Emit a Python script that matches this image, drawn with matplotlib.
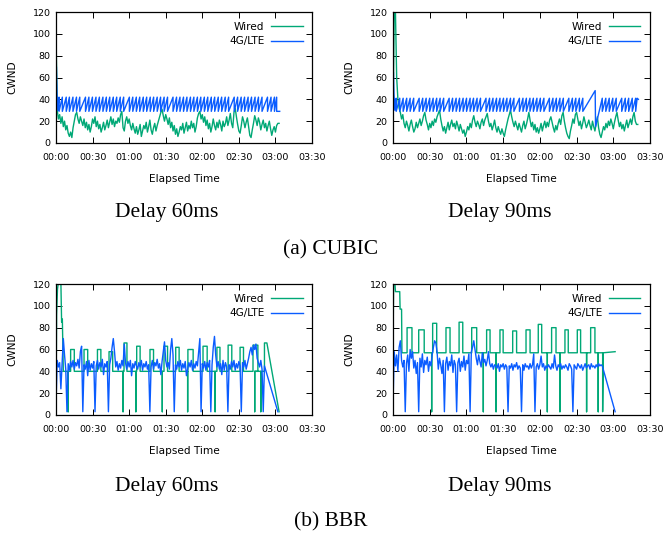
import matplotlib
matplotlib.use("Agg")
import matplotlib.pyplot as plt

# ---- data (seconds, CWND) ----
time_ticks = [0, 30, 60, 90, 120, 150, 180, 210]
time_labels = ["00:00", "00:30", "01:00", "01:30", "02:00", "02:30", "03:00", "03:30"]
cwnd_ticks = [0, 20, 40, 60, 80, 100, 120]

# CUBIC, delay 60ms
cubic60_wired = [100, 30, 22, 26, 18, 24, 15, 20, 12, 16, 9,
                 6, 10, 5, 14, 20, 26, 28, 22, 18, 24,
                 20, 16, 22, 14, 19, 12, 17, 10, 15, 22,
                 18, 24, 15, 20, 13, 17, 10, 14, 19, 12,
                 16, 21, 14, 19, 24, 17, 22, 15, 20, 18,
                 23, 19, 26, 29, 14, 11, 20, 24, 18, 22,
                 16, 12, 18, 13, 9, 15, 8, 12, 17, 6,
                 11, 16, 13, 19, 10, 15, 21, 12, 8, 14,
                 18, 11, 16, 20, 24, 28, 31, 25, 20, 26,
                 22, 17, 23, 14, 19, 11, 16, 8, 13, 6,
                 10, 15, 12, 18, 9, 14, 19, 11, 16, 13,
                 20, 14, 18, 10, 15, 23, 27, 29, 22, 26,
                 19, 24, 16, 21, 13, 18, 10, 15, 22, 16,
                 12, 19, 14, 21, 17, 11, 20, 15, 18, 24,
                 16, 21, 27, 18, 14, 28, 32, 24, 17, 11,
                 9, 16, 24, 20, 14, 19, 23, 15, 7, 5,
                 12, 18, 25, 21, 16, 23, 19, 12, 17, 21,
                 14, 18, 11, 16, 20, 13, 7, 12, 15, 10,
                 16, 18, 18]
cubic60_lte_head_t = [0, 0.3, 0.8, 1.5]
cubic60_lte_head_v = [10, 70, 45, 30]
cubic60_lte_drops = [2.5, 5.2, 8.4, 11.0, 13.9, 16.8, 19.5, 24.2, 27.0, 29.9,
                     32.8, 35.6, 38.5, 41.3, 44.1, 47.0, 49.8, 52.7, 55.5, 60.2,
                     63.0, 65.9, 68.7, 71.6, 74.4, 77.3, 80.1, 83.0, 85.8, 88.7,
                     91.5, 96.0, 98.9, 101.7, 104.6, 107.4, 110.3, 113.1, 116.0, 118.8,
                     121.7, 124.5, 127.4, 130.2, 133.1, 135.9, 138.8, 141.6, 146.2, 149.0,
                     151.9, 154.7, 157.6, 160.4, 163.3, 166.1, 169.0, 173.5, 176.4, 179.2, 181.0]
cubic60_lte_tail_t = [183.5]
cubic60_lte_tail_v = [29]
cubic60_lte_hi, cubic60_lte_lo = 42, 29

# CUBIC, delay 90ms
cubic90_wired = [20, 120, 120, 60, 40, 32, 28, 22, 26, 18,
                 14, 20, 16, 11, 17, 21, 15, 10, 13, 19,
                 14, 18, 22, 16, 20, 25, 28, 21, 17, 12,
                 18, 14, 20, 16, 22, 19, 24, 27, 30, 22,
                 16, 11, 15, 9, 14, 19, 12, 17, 21, 15,
                 18, 13, 20, 16, 11, 17, 13, 9, 12, 6,
                 10, 15, 12, 18, 14, 21, 25, 19, 15, 20,
                 17, 13, 19, 22, 16, 21, 24, 27, 20, 15,
                 18, 12, 16, 21, 14, 10, 15, 11, 8, 13,
                 9, 6, 12, 17, 22, 26, 30, 24, 19, 15,
                 20, 16, 12, 18, 14, 10, 16, 20, 13, 17,
                 22, 28, 21, 15, 19, 12, 17, 10, 14, 9,
                 13, 18, 11, 16, 20, 14, 19, 15, 21, 24,
                 19, 14, 10, 16, 12, 18, 22, 17, 25, 28,
                 20, 14, 9, 6, 4, 11, 16, 22, 18, 26,
                 28, 22, 16, 20, 13, 18, 24, 19, 14, 17,
                 21, 16, 12, 20, 15, 11, 18, 24, 14, 8,
                 5, 10, 15, 12, 18, 14, 20, 16, 22, 18,
                 13, 19, 24, 28, 21, 15, 19, 13, 17, 11,
                 16, 21, 14, 18, 22, 17, 24, 28, 20, 17, 17]
cubic90_lte_head_t = [0, 0.3, 0.8, 1.5]
cubic90_lte_head_v = [10, 65, 45, 30]
cubic90_lte_drops1 = [2.6, 5.5, 8.3, 11.2, 14.0, 16.9, 21.4, 24.3, 27.1, 30.0,
                      32.8, 35.7, 38.5, 41.4, 45.9, 48.7, 51.6, 54.4, 57.3, 60.1,
                      63.0, 65.8, 68.7, 71.5, 76.0, 78.9, 81.7, 84.6, 87.4, 90.3,
                      93.1, 96.0, 98.8, 103.3, 106.2, 109.0, 111.9, 114.7, 117.6, 120.4,
                      123.3, 127.8, 130.7, 133.5, 136.4, 139.2, 143.7, 146.6, 149.4, 152.3, 155.1]
cubic90_lte_spike_t = [165.2, 165.5]
cubic90_lte_spike_v = [48, 15]
cubic90_lte_drops2 = [171.0, 173.9, 176.7, 179.6, 182.4, 186.9, 189.8, 192.6, 195.5, 198.3]
cubic90_lte_tail_t = [199.5, 200.5]
cubic90_lte_tail_v = [41, 40]
cubic90_lte_hi, cubic90_lte_lo = 41, 29

# BBR, delay 60ms
bbr60_lte = [10, 50, 44, 48, 24, 46, 70, 55, 42, 3,
             47, 41, 49, 44, 50, 42, 48, 45, 51, 43,
             58, 63, 3, 46, 42, 49, 36, 50, 41, 47,
             43, 49, 3, 45, 50, 42, 48, 44, 51, 37,
             47, 44, 49, 3, 46, 52, 62, 70, 58, 44,
             49, 41, 47, 43, 50, 45, 65, 48, 42, 49,
             44, 50, 36, 47, 43, 49, 45, 42, 48, 44,
             50, 41, 47, 44, 49, 42, 46, 3, 44, 50,
             42, 48, 45, 51, 43, 47, 37, 49, 58, 67,
             50, 44, 48, 42, 60, 70, 55, 3, 46, 42,
             49, 44, 50, 41, 47, 43, 49, 36, 42, 48,
             44, 50, 41, 47, 43, 49, 45, 58, 70, 3,
             47, 43, 49, 41, 48, 44, 50, 3, 46, 62,
             72, 55, 44, 49, 42, 47, 37, 50, 41, 48,
             44, 3, 46, 42, 49, 44, 50, 41, 47, 43,
             49, 45, 3, 48, 44, 50, 42, 47, 52, 58,
             62, 55, 64, 60, 65, 52, 48, 44, 50, 42,
             3, 45]
bbr60_lte_tail_t = [182.0]
bbr60_lte_tail_v = [3]
bbr60_wired_head_t = [0, 0.5, 1.2, 2.0, 4.0, 4.6, 5.2, 6.0]
bbr60_wired_head_v = [5, 92, 115, 122, 122, 85, 88, 40]
bbr60_wired_base = 40
bbr60_pulse_start = [12.0, 23.0, 34.0, 43.5, 55.8, 66.2, 77.1, 88.6, 98.2, 108.2, 120.6, 132.0, 141.2, 151.0, 161.6]
bbr60_pulse_end = [15.0, 26.0, 36.8, 46.5, 58.2, 69.0, 80.0, 91.5, 101.0, 112.5, 124.0, 134.5, 144.2, 153.8, 165.6]
bbr60_pulse_level = [60, 60, 60, 58, 66, 63, 60, 63, 62, 60, 63, 62, 64, 62, 64]
bbr60_wired_drops = [10.0, 55.0, 65.5, 87.2, 108.0, 130.5, 163.0, 168.0]
bbr60_wired_tail_t = [171.0, 171.0, 173.0, 183.0]
bbr60_wired_tail_v = [40, 66, 66, 3]

# BBR, delay 90ms
bbr90_lte = [10, 58, 45, 55, 40, 62, 68, 50, 44, 50,
             3, 47, 55, 40, 60, 52, 58, 43, 50, 38,
             48, 3, 52, 44, 56, 39, 50, 46, 53, 40,
             49, 45, 55, 62, 68, 66, 58, 42, 52, 46,
             38, 50, 3, 47, 53, 41, 49, 45, 55, 39,
             50, 46, 3, 48, 52, 40, 49, 44, 54, 41,
             50, 47, 56, 3, 58, 62, 68, 60, 52, 46,
             55, 49, 44, 57, 48, 51, 45, 50, 58, 47,
             44, 47, 42, 46, 45, 43, 47, 40, 46, 44,
             47, 42, 46, 44, 3, 45, 43, 47, 41, 46,
             44, 48, 42, 45, 43, 3, 46, 41, 47, 44,
             45, 42, 47, 43, 46, 56, 3, 44, 47, 42,
             46, 54, 44, 47, 41, 45, 43, 46, 44, 42,
             47, 43, 55, 45, 41, 46, 44, 47, 42, 45,
             43, 46, 44, 41, 47, 45, 42, 3, 46, 44,
             42, 47, 45, 43, 46, 41, 44, 47, 43, 45,
             46, 42, 47, 44, 45, 43, 46, 44, 47, 45,
             46, 45]
bbr90_lte_tail_t = [181.5]
bbr90_lte_tail_v = [3]
bbr90_wired_head_t = [0, 0.5, 1.5, 2.0, 5.5, 5.8, 7.0, 7.3]
bbr90_wired_head_v = [60, 122, 122, 113, 113, 97, 97, 57]
bbr90_wired_base = 57
bbr90_pulse_start = [11.5, 21.0, 32.4, 43.3, 54.0, 64.3, 76.5, 87.4, 97.8, 108.7, 118.7, 129.6, 140.5, 150.6, 161.5]
bbr90_pulse_end = [15.5, 25.5, 35.7, 46.6, 57.0, 68.4, 79.3, 90.0, 101.0, 112.0, 121.5, 133.2, 143.2, 153.3, 165.0]
bbr90_pulse_level = [80, 78, 84, 80, 85, 80, 78, 78, 77, 78, 83, 80, 78, 78, 80]
bbr90_wired_drops = [31.6, 73.8, 84.2, 126.1, 136.4, 158.2, 167.7]
bbr90_wired_tail_t = [171.3, 171.3, 171.8, 181.5]
bbr90_wired_tail_v = [57, 3, 57, 58]

drop_floor = 3

GREEN = "#00a876"
BLUE = "#0a5cff"


def saw(drops, hi, lo):
    t, v = [], []
    for d in drops:
        t += [d, d]
        v += [hi, lo]
    return t, v


def pulses(base, starts, ends, levels, drops):
    ev = []
    for s, e, l in zip(starts, ends, levels):
        ev.append((s, [s, s, e, e], [base, l, l, base]))
    for d in drops:
        ev.append((d, [d, d, d], [base, drop_floor, base]))
    ev.sort(key=lambda x: x[0])
    t, v = [], []
    for _, et, evv in ev:
        t += et
        v += evv
    return t, v


def style(ax):
    ax.set_xlim(0, 210)
    ax.set_ylim(0, 120)
    ax.set_xticks(time_ticks)
    ax.set_xticklabels(time_labels)
    ax.set_yticks(cwnd_ticks)
    ax.tick_params(direction="in", top=True, right=True, length=4, width=0.7,
                   labelsize=6.8, colors="black")
    ax.tick_params(axis="x", pad=7)
    ax.tick_params(axis="y", pad=4)
    for sp in ax.spines.values():
        sp.set_linewidth(0.9)
    ax.set_xlabel("Elapsed Time", fontsize=7.6, labelpad=9)
    ax.set_ylabel("CWND", fontsize=7.6, labelpad=11)
    ax.legend(loc="upper right", frameon=False, markerfirst=False, fontsize=7.6,
              handlelength=3.0, handletextpad=0.6, labelspacing=0.45,
              borderaxespad=0.5)


fig = plt.figure(figsize=(6.63, 5.37), dpi=100)
W, H = 663.0, 537.0
ax1 = fig.add_axes([56 / W, 394 / H, 256 / W, 131 / H])
ax2 = fig.add_axes([393 / W, 394 / H, 257 / W, 131 / H])
ax3 = fig.add_axes([56 / W, 122 / H, 256 / W, 131 / H])
ax4 = fig.add_axes([393 / W, 122 / H, 257 / W, 131 / H])
lw = 1.0

# CUBIC 60
ax1.plot(range(len(cubic60_wired)), cubic60_wired, color=GREEN, lw=lw, label="Wired")
st, sv = saw(cubic60_lte_drops, cubic60_lte_hi, cubic60_lte_lo)
ax1.plot(cubic60_lte_head_t + st + cubic60_lte_tail_t,
         cubic60_lte_head_v + sv + cubic60_lte_tail_v, color=BLUE, lw=lw, label="4G/LTE")

# CUBIC 90
ax2.plot(range(len(cubic90_wired)), cubic90_wired, color=GREEN, lw=lw, label="Wired")
s1t, s1v = saw(cubic90_lte_drops1, cubic90_lte_hi, cubic90_lte_lo)
s2t, s2v = saw(cubic90_lte_drops2, cubic90_lte_hi, cubic90_lte_lo)
ax2.plot(cubic90_lte_head_t + s1t + cubic90_lte_spike_t + s2t + cubic90_lte_tail_t,
         cubic90_lte_head_v + s1v + cubic90_lte_spike_v + s2v + cubic90_lte_tail_v,
         color=BLUE, lw=lw, label="4G/LTE")

# BBR 60
pt, pv = pulses(bbr60_wired_base, bbr60_pulse_start, bbr60_pulse_end, bbr60_pulse_level, bbr60_wired_drops)
ax3.plot(bbr60_wired_head_t + pt + bbr60_wired_tail_t,
         bbr60_wired_head_v + pv + bbr60_wired_tail_v, color=GREEN, lw=lw, label="Wired")
ax3.plot(list(range(len(bbr60_lte))) + bbr60_lte_tail_t, bbr60_lte + bbr60_lte_tail_v,
         color=BLUE, lw=lw, label="4G/LTE")

# BBR 90
pt, pv = pulses(bbr90_wired_base, bbr90_pulse_start, bbr90_pulse_end, bbr90_pulse_level, bbr90_wired_drops)
ax4.plot(bbr90_wired_head_t + pt + bbr90_wired_tail_t,
         bbr90_wired_head_v + pv + bbr90_wired_tail_v, color=GREEN, lw=lw, label="Wired")
ax4.plot(list(range(len(bbr90_lte))) + bbr90_lte_tail_t, bbr90_lte + bbr90_lte_tail_v,
         color=BLUE, lw=lw, label="4G/LTE")

for ax in (ax1, ax2, ax3, ax4):
    style(ax)

serif = ["Liberation Serif", "DejaVu Serif"]
cap = 15.5
fig.text(167 / W, 1 - 213 / H, "Delay 60ms", ha="center", va="center", family=serif, size=cap)
fig.text(500 / W, 1 - 213 / H, "Delay 90ms", ha="center", va="center", family=serif, size=cap)
fig.text(331 / W, 1 - 250 / H, "(a) CUBIC", ha="center", va="center", family=serif, size=cap)
fig.text(167 / W, 1 - 487 / H, "Delay 60ms", ha="center", va="center", family=serif, size=cap)
fig.text(500 / W, 1 - 487 / H, "Delay 90ms", ha="center", va="center", family=serif, size=cap)
fig.text(331 / W, 1 - 522 / H, "(b) BBR", ha="center", va="center", family=serif, size=cap)

fig.savefig("out.png", dpi=100)
